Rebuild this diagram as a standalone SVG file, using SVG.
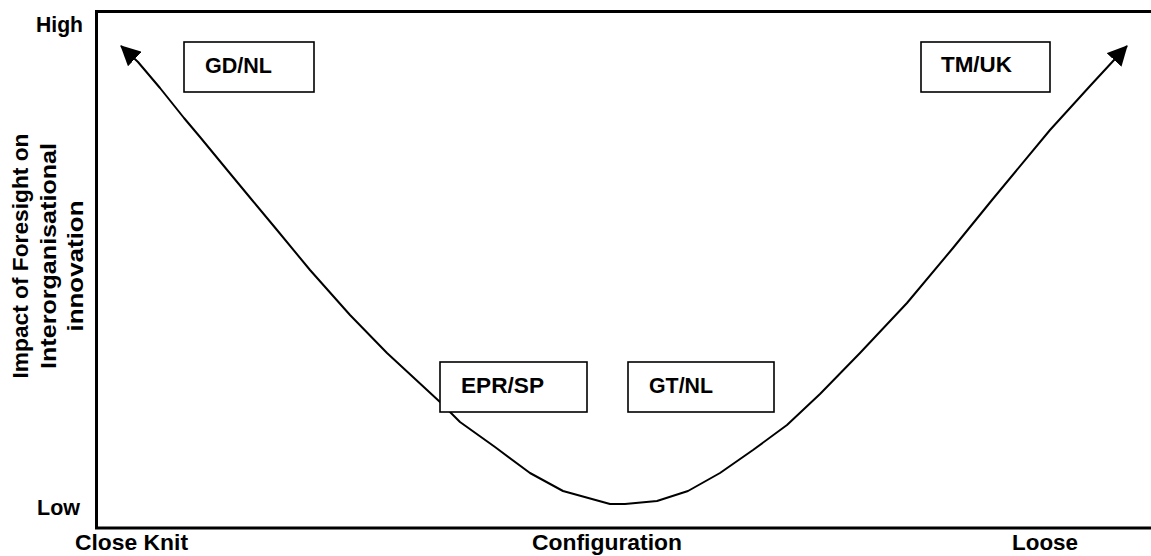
<svg xmlns="http://www.w3.org/2000/svg" width="1151" height="556" viewBox="0 0 1151 556">
  <style>
    .t { font-family: "Liberation Sans", Arial, sans-serif; font-weight: bold; font-size: 22.5px; fill: #000; }
    .box { fill: #fff; stroke: #000; stroke-width: 1.6; }
    .curve { fill: none; stroke: #000; stroke-width: 2; stroke-linejoin: round; }
  </style>
  <defs>
    <marker id="arrow" viewBox="0 0 20 20" refX="19" refY="10" markerWidth="20" markerHeight="20" markerUnits="userSpaceOnUse" orient="auto-start-reverse">
      <path d="M0,0 L20,10 L0,20 z" fill="#000"/>
    </marker>
  </defs>
  <rect width="1151" height="556" fill="#fff"/>

  <g id="axes">
    <path d="M1153,11.5 H96.5 V528 H1153" fill="none" stroke="#000" stroke-width="3"/>
    <text class="t" x="36" y="32" textLength="47" lengthAdjust="spacingAndGlyphs">High</text>
    <text class="t" x="37" y="515" textLength="43" lengthAdjust="spacingAndGlyphs">Low</text>
    <text class="t" x="75" y="550" textLength="113" lengthAdjust="spacingAndGlyphs">Close Knit</text>
    <text class="t" x="532" y="550" textLength="150" lengthAdjust="spacingAndGlyphs">Configuration</text>
    <text class="t" x="1012" y="550" textLength="66" lengthAdjust="spacingAndGlyphs">Loose</text>
    <g transform="rotate(-90)">
      <text class="t" x="-256" y="28" text-anchor="middle" textLength="245" lengthAdjust="spacingAndGlyphs">Impact of Foresight on</text>
      <text class="t" x="-256" y="56" text-anchor="middle" textLength="226" lengthAdjust="spacingAndGlyphs">Interorganisational</text>
      <text class="t" x="-266" y="83" text-anchor="middle" textLength="131" lengthAdjust="spacingAndGlyphs">innovation</text>
    </g>
  </g>

  <g id="connectors">
    <polyline class="curve" marker-start="url(#arrow)" marker-end="url(#arrow)"
      points="121,46 138,62 160,88 184,118 200,137 228,171 252,200 277,230 310,270 350,315 387,353 440,402 460,422 495,447 530,473 563,491 610,504 625,504 657,501 688,491 720,473 753,450 787,425 820,394 860,353 907,303 953,248 992,200 1050,130 1090,86 1127,46"/>
  </g>

  <g id="node-gdnl">
    <rect class="box" x="184" y="42" width="130" height="50"/>
    <text class="t" x="205" y="73" textLength="67" lengthAdjust="spacingAndGlyphs">GD/NL</text>
  </g>
  <g id="node-tmuk">
    <rect class="box" x="921" y="42" width="129" height="50"/>
    <text class="t" x="941" y="72" textLength="71" lengthAdjust="spacingAndGlyphs">TM/UK</text>
  </g>
  <g id="node-eprsp">
    <rect class="box" x="440" y="362" width="147" height="50"/>
    <text class="t" x="461" y="393" textLength="83" lengthAdjust="spacingAndGlyphs">EPR/SP</text>
  </g>
  <g id="node-gtnl">
    <rect class="box" x="628" y="362" width="146" height="50"/>
    <text class="t" x="649" y="393" textLength="64" lengthAdjust="spacingAndGlyphs">GT/NL</text>
  </g>
</svg>
